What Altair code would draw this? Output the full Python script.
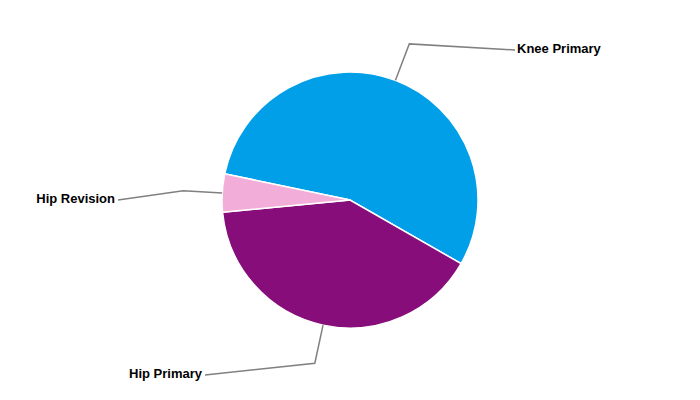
import altair as alt
import pandas as pd
import numpy as np

# ---- data ----
categories = ["Knee Primary", "Hip Primary", "Hip Revision"]
values = [55.0, 40.2, 4.8]
colors = ["#009FE8", "#870E7A", "#F2ADD9"]

# ---- layout ----
W, H = 684, 384
R = 128
ELBOW = 167
START_DEG = 281.8
label_ends = [(165, 150), (-145, -175), (-232, 0)]
label_side = ["left", "right", "right"]

start = np.deg2rad(START_DEG)
total = sum(values)

pie_df = pd.DataFrame({"category": categories, "value": values, "order": list(range(len(categories)))})

rows = []
text_rows = []
cum = 0.0
for i, (c, v) in enumerate(zip(categories, values)):
    mid = start + 2 * np.pi * (cum + v / 2) / total
    cum += v
    rows.append({"category": c, "pt": 0, "x": R * np.sin(mid), "y": R * np.cos(mid)})
    rows.append({"category": c, "pt": 1, "x": ELBOW * np.sin(mid), "y": ELBOW * np.cos(mid)})
    ex, ey = label_ends[i]
    rows.append({"category": c, "pt": 2, "x": ex, "y": ey})
    dx = 2 if label_side[i] == "left" else -3
    text_rows.append({"category": c, "x": ex + dx, "y": ey + 1.5, "side": label_side[i]})

line_df = pd.DataFrame(rows)
text_df = pd.DataFrame(text_rows)

xs = alt.Scale(domain=[-W / 2, W / 2], range=[0, W])
ys = alt.Scale(domain=[-H / 2, H / 2], range=[H, 0])

arc = alt.Chart(pie_df).mark_arc(outerRadius=R, stroke="white", strokeWidth=1.5).encode(
    theta=alt.Theta("value:Q", stack=True, scale=alt.Scale(range=[start, start + 2 * np.pi])),
    color=alt.Color("category:N", scale=alt.Scale(domain=categories, range=colors), legend=None),
    order=alt.Order("order:Q"),
)

lines = alt.Chart(line_df).mark_line(color="#808080", strokeWidth=1.5).encode(
    x=alt.X("x:Q", scale=xs, axis=None),
    y=alt.Y("y:Q", scale=ys, axis=None),
    detail="category:N",
    order="pt:Q",
)

text_left = alt.Chart(text_df).transform_filter(alt.datum.side == "left").mark_text(
    align="left", baseline="middle", font="Liberation Sans", fontSize=13, fontWeight="bold", color="#000000"
).encode(
    x=alt.X("x:Q", scale=xs, axis=None),
    y=alt.Y("y:Q", scale=ys, axis=None),
    text="category:N",
)

text_right = alt.Chart(text_df).transform_filter(alt.datum.side == "right").mark_text(
    align="right", baseline="middle", font="Liberation Sans", fontSize=13, fontWeight="bold", color="#000000"
).encode(
    x=alt.X("x:Q", scale=xs, axis=None),
    y=alt.Y("y:Q", scale=ys, axis=None),
    text="category:N",
)

chart = alt.layer(arc, lines, text_left, text_right).properties(
    width=W, height=H, padding=0, autosize=alt.AutoSizeParams(type="none")
).configure_view(stroke=None)

chart.save("out.html", embed_options={"renderer": "svg", "actions": False})
